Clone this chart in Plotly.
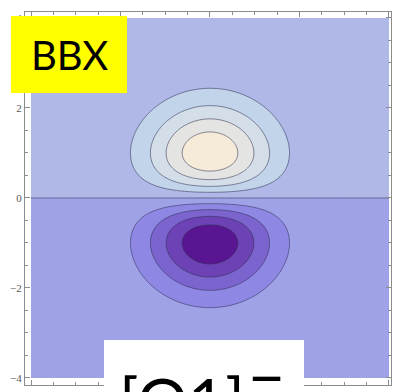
import numpy as np
import plotly.graph_objects as go

# Contour levels (evenly spaced) and the fill colour of each band, lowest band first
level_start = -0.5
level_end = 0.5
level_step = 0.125
band_colors = ["#5a1692", "#6c42b4", "#7c64ce", "#8e88e4", "#a0a2e8",
               "#b0b8e8", "#c2d4ea", "#d4dee8", "#e4e4e2", "#f6ead8"]

# Frame tick labels
y_tick_vals = [-4, -2, 0, 2, 4]
y_tick_text = ["\u22124", "\u22122", "0", "2", "4"]

# Dipole field y*exp(-(x^2+y^2)/2) sampled over the square [-4, 4] x [-4, 4]
xs = np.linspace(-4, 4, 260)
ys = np.linspace(-4, 4, 260)
X, Y = np.meshgrid(xs, ys)
Z = Y * np.exp(-(X ** 2 + Y ** 2) / 2)

n = len(band_colors) - 1
colorscale = [[k / n, c] for k, c in enumerate(band_colors)]

fig = go.Figure(
    go.Contour(
        x=xs, y=ys, z=Z,
        autocontour=False,
        contours=dict(start=level_start, end=level_end, size=level_step,
                      coloring="fill", showlines=True),
        line=dict(color="rgba(45,45,80,0.55)", width=1),
        colorscale=colorscale,
        showscale=False,
        hoverinfo="skip",
    )
)

W, H = 395, 392
ml, mr, mt, mb = 25, 4, 12, 7
pw, ph = W - ml - mr, H - mt - mb


def px(x):
    return (x - ml) / pw


def py(y):
    return (H - mb - y) / ph


frame = "#8c8c8c"
axis_common = dict(
    showline=True, linecolor=frame, linewidth=1, mirror="allticks",
    ticks="inside", ticklen=5, tickcolor=frame, tickwidth=1,
    showgrid=False, zeroline=False,
    minor=dict(dtick=0.5, ticklen=3, ticks="inside", tickcolor=frame, showgrid=False),
)

fig.update_xaxes(range=[-4.134, 4.045], tick0=0, dtick=2,
                 showticklabels=False, **axis_common)
fig.update_yaxes(range=[-4.156, 4.133], tickvals=y_tick_vals, ticktext=y_tick_text,
                 tickfont=dict(family="Liberation Serif", size=11, color="#555555"),
                 **axis_common)

# Label boxes drawn over the frame
fig.add_shape(type="rect", xref="paper", yref="paper",
              x0=px(11), x1=px(127), y0=py(93), y1=py(16),
              fillcolor="#ffff00", line=dict(width=0), layer="above")
fig.add_shape(type="rect", xref="paper", yref="paper",
              x0=px(104), x1=px(304), y0=py(400), y1=py(340),
              fillcolor="#ffffff", line=dict(width=0), layer="above")

fig.add_annotation(text="BBX", xref="paper", yref="paper",
                   x=px(69), y=py(55), xanchor="center", yanchor="middle",
                   showarrow=False, font=dict(family="Lato", size=40, color="#000000"))
fig.add_annotation(text="[O1]", xref="paper", yref="paper",
                   x=px(117), y=py(360), xanchor="left", yanchor="top",
                   showarrow=False, font=dict(family="Lato", size=64, color="#000000"))
fig.add_annotation(text="\u2212", xref="paper", yref="paper",
                   x=px(266), y=py(375), xanchor="center", yanchor="middle",
                   showarrow=False, font=dict(family="Lato", size=64, color="#000000"))

fig.update_layout(
    width=W, height=H,
    margin=dict(l=ml, r=mr, t=mt, b=mb),
    paper_bgcolor="#ffffff", plot_bgcolor="#ffffff",
    showlegend=False,
)

fig.write_html("out.html")
